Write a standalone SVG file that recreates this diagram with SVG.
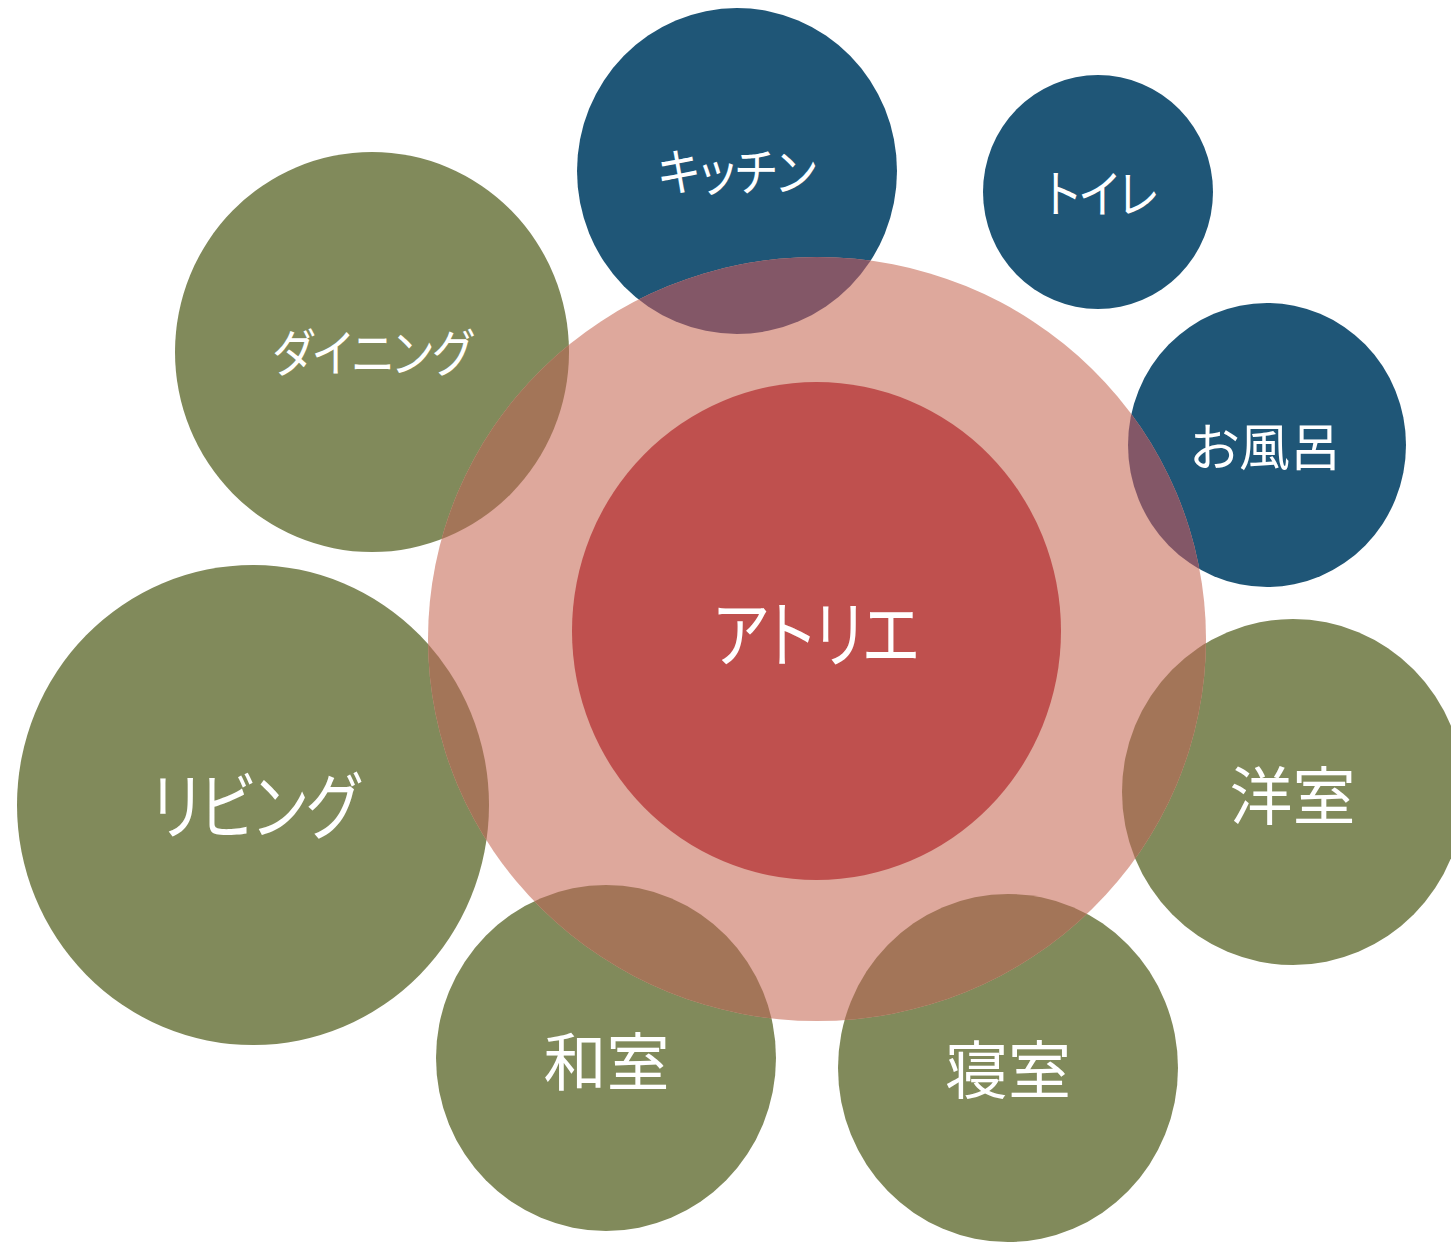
<svg xmlns="http://www.w3.org/2000/svg" xmlns:xlink="http://www.w3.org/1999/xlink" width="1451" height="1244" viewBox="0 0 1451 1244">
<style>
.green{fill:#818A5B}
.blue{fill:#1F5677}
.pink{fill:#DEA89C}
.red{fill:#BF504E}
.ov-green{fill:#A37558}
.ov-blue{fill:#835767}
.lbl{fill:#FFFFFF;font-family:"Noto Sans CJK JP","Noto Sans CJK SC",sans-serif;text-anchor:middle;font-weight:400;font-feature-settings:"palt" 1}
.s{font-size:51px}
.m{font-size:51px}
.l{font-size:63px}
.k{font-size:73px}
</style>
<defs>
<clipPath id="pinkClip"><ellipse cx="817" cy="639" rx="389" ry="382"/></clipPath>
<ellipse id="e-kitchen" cx="737" cy="171" rx="160" ry="163"/>
<ellipse id="e-toilet" cx="1098" cy="192" rx="115" ry="117"/>
<ellipse id="e-bath" cx="1267" cy="445" rx="139" ry="142"/>
<ellipse id="e-dining" cx="372" cy="352" rx="197" ry="200"/>
<ellipse id="e-living" cx="253" cy="805" rx="236" ry="240"/>
<ellipse id="e-western" cx="1293" cy="792" rx="171" ry="173"/>
<ellipse id="e-washitsu" cx="606" cy="1058" rx="170" ry="173"/>
<ellipse id="e-bedroom" cx="1008" cy="1068" rx="170" ry="174"/>
</defs>
<rect x="0" y="0" width="1451" height="1244" fill="#FFFFFF"/>
<g id="shapes">
<use xlink:href="#e-kitchen" class="blue"/>
<use xlink:href="#e-toilet" class="blue"/>
<use xlink:href="#e-bath" class="blue"/>
<use xlink:href="#e-dining" class="green"/>
<use xlink:href="#e-living" class="green"/>
<use xlink:href="#e-western" class="green"/>
<use xlink:href="#e-washitsu" class="green"/>
<use xlink:href="#e-bedroom" class="green"/>
<ellipse id="zone" cx="817" cy="639" rx="389" ry="382" class="pink"/>
<g clip-path="url(#pinkClip)">
<use xlink:href="#e-kitchen" class="ov-blue"/>
<use xlink:href="#e-bath" class="ov-blue"/>
<use xlink:href="#e-dining" class="ov-green"/>
<use xlink:href="#e-living" class="ov-green"/>
<use xlink:href="#e-western" class="ov-green"/>
<use xlink:href="#e-washitsu" class="ov-green"/>
<use xlink:href="#e-bedroom" class="ov-green"/>
</g>
</g>
<g id="atelier">
<ellipse cx="816.5" cy="631" rx="244.5" ry="249" class="red"/>
<text x="816.5" y="661" class="lbl k" textLength="206" lengthAdjust="spacingAndGlyphs">アトリエ</text>
</g>
<g id="kitchen"><text x="737" y="191" class="lbl s" textLength="158" lengthAdjust="spacingAndGlyphs">キッチン</text></g>
<g id="toilet"><text x="1101.5" y="213" class="lbl s" textLength="112" lengthAdjust="spacingAndGlyphs">トイレ</text></g>
<g id="bath"><text x="1265.5" y="466" class="lbl m">お風呂</text></g>
<g id="dining"><text x="372.5" y="372" class="lbl s" textLength="200" lengthAdjust="spacingAndGlyphs">ダイニング</text></g>
<g id="living"><text x="255.5" y="833" class="lbl k" textLength="208" lengthAdjust="spacingAndGlyphs">リビング</text></g>
<g id="western"><text x="1292.5" y="819" class="lbl l">洋室</text></g>
<g id="washitsu"><text x="606.5" y="1085" class="lbl l">和室</text></g>
<g id="bedroom"><text x="1008" y="1093" class="lbl l">寝室</text></g>
</svg>
